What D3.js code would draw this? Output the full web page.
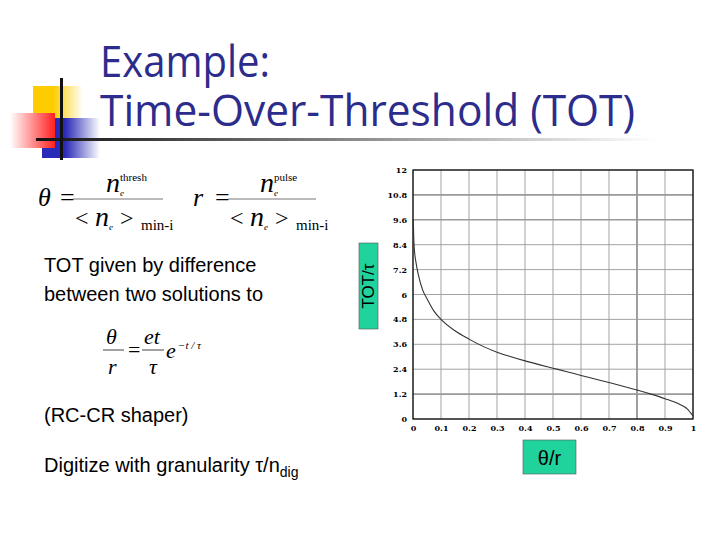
<!DOCTYPE html><html><head><meta charset="utf-8"><script src="https://d3js.org/d3.v7.min.js"></script>
<style>body{margin:0;background:#fff}</style></head><body><svg id="s" width="720" height="540"></svg>
<script>
const xTicks=[0,0.1,0.2,0.3,0.4,0.5,0.6,0.7,0.8,0.9,1];
const xTickLabels=["0","0.1","0.2","0.3","0.4","0.5","0.6","0.7","0.8","0.9","1"];
const yTicks=[0,1.2,2.4,3.6,4.8,6,7.2,8.4,9.6,10.8,12];
const yTickLabels=["0","1.2","2.4","3.6","4.8","6","7.2","8.4","9.6","10.8","12"];
const curveX=[0.001,0.003,0.006,0.01,0.02,0.035,0.05,0.075,0.1,0.15,0.2,0.25,0.3,0.35,0.4,0.45,0.5,0.55,0.6,0.65,0.7,0.75,0.8,0.85,0.9,0.95,0.98,1.0];
const curveY=[9.6,8.6,8.0,7.6,6.9,6.2,5.8,5.2,4.8,4.25,3.85,3.5,3.22,3.0,2.8,2.62,2.45,2.28,2.1,1.93,1.76,1.58,1.4,1.2,0.98,0.72,0.48,0.15];
const svg=d3.select("#s");
const defs=svg.append("defs");
const g1=defs.append("linearGradient").attr("id","ul");
g1.append("stop").attr("offset","0").attr("stop-color","#111");
g1.append("stop").attr("offset","1").attr("stop-color","#fff");
const mk=(id,c)=>{const g=defs.append("linearGradient").attr("id",id);g.append("stop").attr("offset","0.4").attr("stop-color",c);g.append("stop").attr("offset","1").attr("stop-color","#fff");};
mk("gy","#ffcc00");mk("gb","#2a2ab8");
const gr=defs.append("linearGradient").attr("id","gr").attr("x1",1).attr("x2",0);
gr.append("stop").attr("offset","0").attr("stop-color","#ff2020");gr.append("stop").attr("offset","1").attr("stop-color","#fff");
svg.append("rect").attr("x",33).attr("y",86).attr("width",50).attr("height",40).attr("fill","url(#gy)");
svg.append("rect").attr("x",42).attr("y",118).attr("width",58).attr("height",40).attr("fill","url(#gb)");
svg.append("rect").attr("x",10).attr("y",113).attr("width",45).attr("height",35).attr("fill","url(#gr)");
svg.append("rect").attr("x",36).attr("y",138).attr("width",620).attr("height",3).attr("fill","url(#ul)");
svg.append("rect").attr("x",60).attr("y",78).attr("width",3).attr("height",82).attr("fill","#111");
const tf="'Open Sans','DejaVu Sans',sans-serif";
svg.append("text").attr("x",100).attr("y",77).attr("font-family",tf).attr("font-size",44).attr("fill","#2c2c8c").attr("textLength",170).attr("lengthAdjust","spacingAndGlyphs").text("Example:");
svg.append("text").attr("x",100).attr("y",126).attr("font-family",tf).attr("font-size",44).attr("fill","#2c2c8c").attr("textLength",535).attr("lengthAdjust","spacingAndGlyphs").text("Time-Over-Threshold (TOT)");
const sf="'Liberation Serif','DejaVu Serif',serif";
function t(x,y,s,txt,it,anchor){return svg.append("text").attr("x",x).attr("y",y).attr("font-family",sf).attr("font-size",s).attr("font-style",it?"italic":"normal").attr("text-anchor",anchor||"start").text(txt);}
function frac(x0,lhs,sup,l1,l2){
 t(x0,206,26,lhs,true);
 t(x0+22,206,26,"=");
 svg.append("line").attr("x1",l1).attr("x2",l2).attr("y1",199).attr("y2",199).attr("stroke","#777");
 const nx=(l1+l2)/2-12;
 t(nx,192,28,"n",true); t(nx+14,196,9,"e",true); t(nx+14,181,11,sup);
 t(l1+2,226,24,"<"); t(l1+22,226,28,"n",true); t(l1+36,230,9,"e",true); t(l1+47,226,24,">"); t(l1+68,230,15,"min-i");
}
frac(38,"θ","thresh",73,163);
frac(193,"r","pulse",228,316);
const bf="'Liberation Sans',Arial,sans-serif";
svg.append("text").attr("x",44).attr("y",272).attr("font-family",bf).attr("font-size",20).text("TOT given by difference");
svg.append("text").attr("x",44).attr("y",301).attr("font-family",bf).attr("font-size",20).text("between two solutions to");
t(106,344,22,"θ",true); t(108,374,22,"r",true);
svg.append("line").attr("x1",103).attr("x2",124).attr("y1",350).attr("y2",350).attr("stroke","#444");
t(128,357,22,"=");
t(144,344,22,"et",true); t(149,374,22,"τ",true);
svg.append("line").attr("x1",142).attr("x2",164).attr("y1",350).attr("y2",350).attr("stroke","#444");
t(166,358,22,"e",true); t(178,349,11,"−t / τ",true);
svg.append("text").attr("x",44).attr("y",422).attr("font-family",bf).attr("font-size",20).text("(RC-CR shaper)");
svg.append("text").attr("x",44).attr("y",472).attr("font-family",bf).attr("font-size",20).html("Digitize with granularity τ/n<tspan font-size='14' dy='5'>dig</tspan>");
const x=d3.scaleLinear().domain([0,1]).range([413,693]);
const y=d3.scaleLinear().domain([0,12]).range([419,170]);
const grid=svg.append("g");
xTicks.forEach(v=>grid.append("line").attr("x1",x(v)).attr("x2",x(v)).attr("y1",y(0)).attr("y2",y(12)).attr("stroke",v===0.8?"#888":"#999").attr("stroke-width",v===0.8?1.6:0.9));
yTicks.forEach(v=>grid.append("line").attr("y1",y(v)).attr("y2",y(v)).attr("x1",x(0)).attr("x2",x(1)).attr("stroke","#999").attr("stroke-width",[1.2,9.6,10.8].includes(v)?1.6:0.9));
svg.append("rect").attr("x",x(0)).attr("y",y(12)).attr("width",x(1)-x(0)).attr("height",y(0)-y(12)).attr("fill","none").attr("stroke","#000").attr("stroke-width",1.2);
const ax=svg.append("g").attr("transform",`translate(0,${y(0)+3})`).call(d3.axisBottom(x).tickValues(xTicks).tickFormat((d,i)=>xTickLabels[i]).tickSize(0));
ax.select(".domain").remove();
ax.selectAll("text").attr("font-family","'DejaVu Serif',serif").attr("font-weight","bold").attr("font-size",8);
const ay=svg.append("g").attr("transform",`translate(${x(0)-3},0)`).call(d3.axisLeft(y).tickValues(yTicks).tickFormat((d,i)=>yTickLabels[i]).tickSize(0));
ay.select(".domain").remove();
ay.selectAll("text").attr("font-family","'DejaVu Serif',serif").attr("font-weight","bold").attr("font-size",8);
const data=curveX.map((v,i)=>[v,curveY[i]]);
svg.append("path").datum(data).attr("d",d3.line().x(d=>x(d[0])).y(d=>y(d[1])).curve(d3.curveMonotoneX)).attr("fill","none").attr("stroke","#333").attr("stroke-width",1.1);
svg.append("rect").attr("x",359).attr("y",243).attr("width",19).attr("height",86).attr("fill","#20d39c").attr("stroke","#555").attr("stroke-width",0.6);
svg.append("text").attr("transform","translate(374,286) rotate(-90)").attr("text-anchor","middle").attr("font-family",bf).attr("font-size",17).text("TOT/τ");
svg.append("rect").attr("x",523).attr("y",440).attr("width",53).attr("height",34).attr("fill","#20d39c").attr("stroke","#555").attr("stroke-width",0.6);
svg.append("text").attr("x",549.5).attr("y",465).attr("text-anchor","middle").attr("font-family",bf).attr("font-size",20).text("θ/r");
</script></body></html>
